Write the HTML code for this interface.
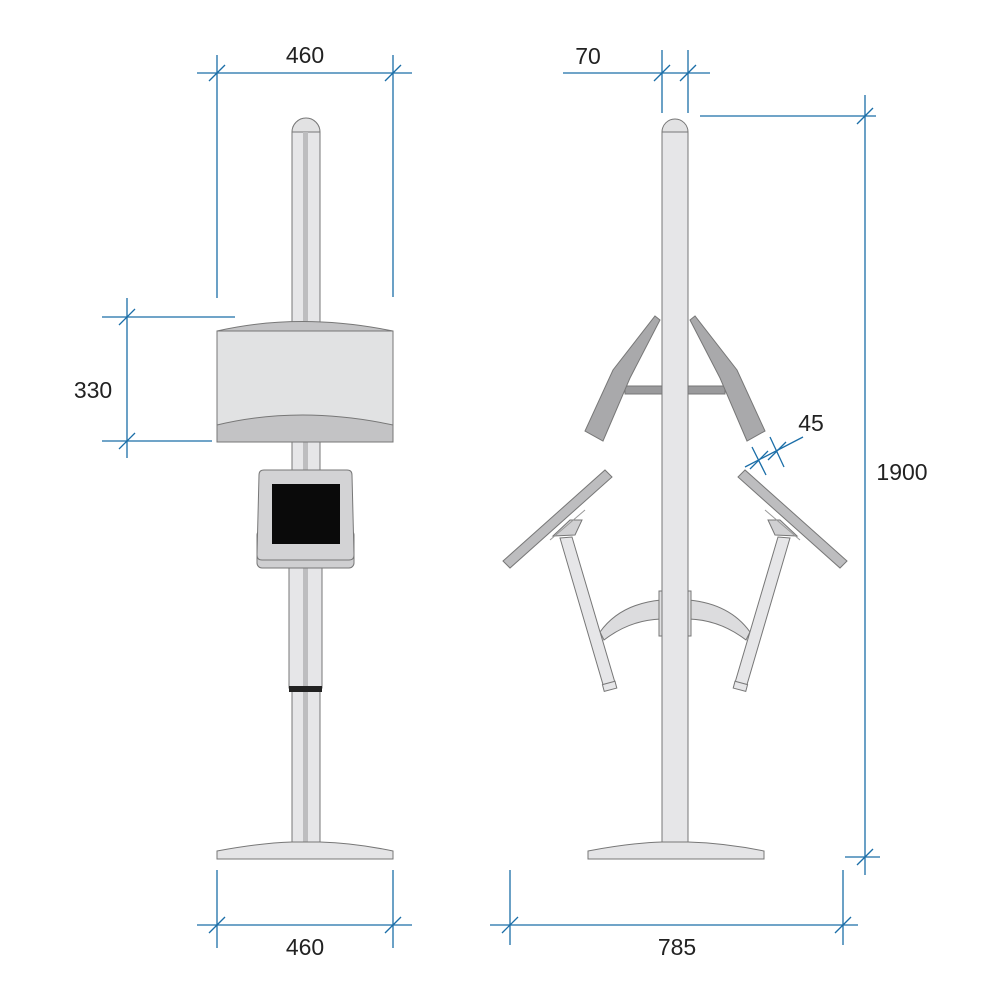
<!DOCTYPE html>
<html><head><style>html,body{margin:0;padding:0;background:#fff}svg{display:block}</style></head>
<body>
<svg width="1000" height="1000" viewBox="0 0 1000 1000" xmlns="http://www.w3.org/2000/svg">
<g stroke="#777" stroke-width="1">
<!-- LEFT VIEW -->
<path d="M292,132 A14,14 0 0 1 320,132 Z" fill="#e2e2e3"/>
<rect x="292" y="132" width="28" height="712" fill="#e6e6e8"/>
<rect x="303" y="132" width="5" height="712" fill="#bdbdbf" stroke="none"/>
<rect x="289" y="568" width="33" height="120" fill="#e6e6e8"/>
<rect x="303" y="568" width="5" height="120" fill="#bdbdbf" stroke="none"/>
<rect x="289" y="686" width="33" height="6" fill="#222" stroke="none"/>
<!-- box -->
<rect x="217" y="331" width="176" height="111" fill="#e1e2e3"/>
<path d="M217,331 Q300,312 393,331 Z" fill="#c3c3c5"/>
<path d="M217,425 Q300,405 393,425 L393,442 L217,442 Z" fill="#c3c3c5"/>
<!-- tablet -->
<rect x="257" y="530" width="97" height="38" rx="5" fill="#cfcfd1"/>
<path d="M264,470 L347,470 Q352,470 352,475 L354,555 Q354,560 349,560 L262,560 Q257,560 257,555 L259,475 Q259,470 264,470 Z" fill="#d3d3d5"/>
<rect x="272" y="484" width="68" height="60" fill="#0a0a0a" stroke="none"/>
<!-- base -->
<path d="M217,851 Q260,843 292,842 L320,842 Q355,843 393,851 L393,859 L217,859 Z" fill="#e4e4e6"/>

<!-- RIGHT VIEW -->
<path d="M661,600 Q620,604 600,632 L604,640 Q630,620 661,619 Z" fill="#dcdcde"/>
<path d="M689,600 Q730,604 750,632 L746,640 Q720,620 689,619 Z" fill="#dcdcde"/>
<rect x="659" y="591" width="4" height="45" fill="#e0e0e2"/>
<rect x="687" y="591" width="4" height="45" fill="#e0e0e2"/>
<!-- arms -->
<polygon points="560,538 572,537 616,686 604,688" fill="#e6e6e8"/>
<rect x="603" y="683" width="13" height="7" fill="#e6e6e8" transform="rotate(-15 609 686)"/>
<polygon points="790,538 778,537 734,686 746,688" fill="#e6e6e8"/>
<rect x="734" y="683" width="13" height="7" fill="#e6e6e8" transform="rotate(15 741 686)"/>
<!-- mounts -->
<polygon points="553,536 575,535 582,520 570,520" fill="#d0d0d2"/>
<polygon points="797,536 775,535 768,520 780,520" fill="#d0d0d2"/>
<!-- lower panels -->
<polygon points="605,470 612,477 510,568 503,561" fill="#bdbdbf"/>
<polygon points="745,470 738,477 840,568 847,561" fill="#bdbdbf"/>
<line x1="550" y1="540" x2="585" y2="510" stroke="#999"/>
<line x1="800" y1="540" x2="765" y2="510" stroke="#999"/>
<!-- pole -->
<path d="M662,132 A13,13 0 0 1 688,132 Z" fill="#e2e2e3"/>
<rect x="662" y="132" width="26" height="712" fill="#e6e6e8"/>
<!-- brackets -->
<rect x="625" y="386" width="37" height="8" fill="#9a9a9c"/>
<rect x="688" y="386" width="37" height="8" fill="#9a9a9c"/>
<!-- upper panels -->
<polygon points="655,316 660,320 630,378 603,441 585,431 613,370" fill="#a9a9ab"/>
<polygon points="695,316 690,320 720,378 747,441 765,431 737,370" fill="#a9a9ab"/>
<!-- base -->
<path d="M588,851 Q630,843 662,842 L688,842 Q725,843 764,851 L764,859 L588,859 Z" fill="#e4e4e6"/>
</g>

<g stroke="#1b6ea8" stroke-width="1.3" fill="none">
<line x1="197" y1="73" x2="412" y2="73"/>
<line x1="217" y1="55" x2="217" y2="298"/>
<line x1="393" y1="55" x2="393" y2="297"/>
<line x1="209" y1="81" x2="225" y2="65"/><line x1="385" y1="81" x2="401" y2="65"/>
<line x1="127" y1="298" x2="127" y2="458"/>
<line x1="102" y1="317" x2="235" y2="317"/>
<line x1="102" y1="441" x2="212" y2="441"/>
<line x1="119" y1="325" x2="135" y2="309"/><line x1="119" y1="449" x2="135" y2="433"/>
<line x1="197" y1="925" x2="412" y2="925"/>
<line x1="217" y1="870" x2="217" y2="948"/>
<line x1="393" y1="870" x2="393" y2="948"/>
<line x1="209" y1="933" x2="225" y2="917"/><line x1="385" y1="933" x2="401" y2="917"/>
<line x1="563" y1="73" x2="710" y2="73"/>
<line x1="662" y1="50" x2="662" y2="113"/>
<line x1="688" y1="50" x2="688" y2="113"/>
<line x1="654" y1="81" x2="670" y2="65"/><line x1="680" y1="81" x2="696" y2="65"/>
<line x1="865" y1="95" x2="865" y2="875"/>
<line x1="700" y1="116" x2="876" y2="116"/>
<line x1="845" y1="857" x2="880" y2="857"/>
<line x1="857" y1="124" x2="873" y2="108"/><line x1="857" y1="865" x2="873" y2="849"/>
<line x1="490" y1="925" x2="858" y2="925"/>
<line x1="510" y1="870" x2="510" y2="945"/>
<line x1="843" y1="870" x2="843" y2="945"/>
<line x1="502" y1="933" x2="518" y2="917"/><line x1="835" y1="933" x2="851" y2="917"/>
<line x1="745" y1="467" x2="803" y2="437"/>
<line x1="752" y1="447" x2="766" y2="475"/>
<line x1="770" y1="437" x2="784" y2="467"/>
<line x1="750" y1="469" x2="768" y2="451"/>
<line x1="768" y1="460" x2="786" y2="442"/>
</g>

<g font-family="Liberation Sans, sans-serif" font-size="23" fill="#222" text-anchor="middle">
<text x="305" y="63">460</text>
<text x="93" y="398">330</text>
<text x="305" y="955">460</text>
<text x="588" y="64">70</text>
<text x="811" y="431">45</text>
<text x="902" y="480">1900</text>
<text x="677" y="955">785</text>
</g>
</svg>
</body></html>
